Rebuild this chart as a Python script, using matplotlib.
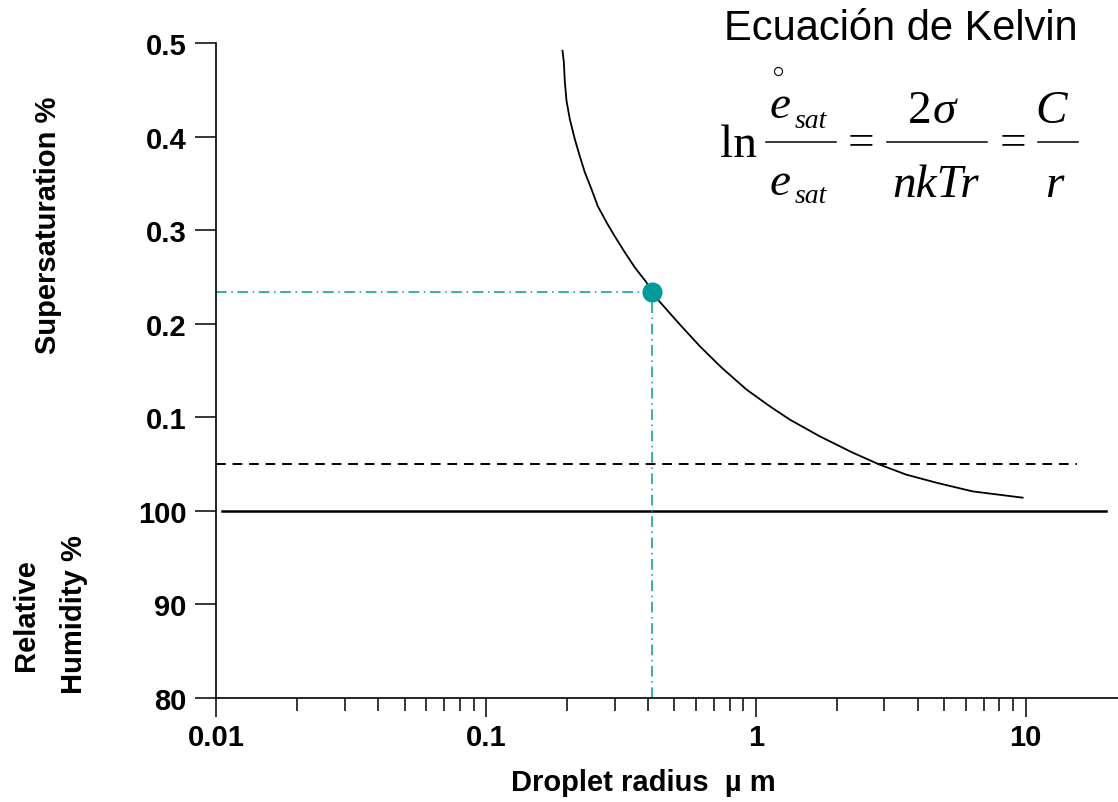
import matplotlib
matplotlib.use('Agg')
import matplotlib.pyplot as plt
from matplotlib.lines import Line2D
from matplotlib.ticker import FixedLocator, NullFormatter

# Kelvin curve: radius (um) vs supersaturation (%)
radius = [0.1923, 0.1945, 0.1962, 0.1990, 0.2047, 0.2136, 0.2229, 0.2326,
          0.2463, 0.2600, 0.2799, 0.3004, 0.3272, 0.3563, 0.3936, 0.4110,
          0.4669, 0.5232, 0.6204, 0.7464, 0.9239, 1.127, 1.336, 1.726,
          2.287, 2.879, 3.614, 4.669, 6.364, 9.748]
supersat = [0.4917, 0.4797, 0.4582, 0.4382, 0.4186, 0.3972, 0.3790, 0.3619,
            0.3437, 0.3255, 0.3084, 0.2934, 0.2763, 0.2602, 0.2442, 0.2335,
            0.2153, 0.1992, 0.1760, 0.1532, 0.1297, 0.1118, 0.0976, 0.0797,
            0.0622, 0.0494, 0.0387, 0.0301, 0.0208, 0.0141]

# highlighted droplet
point_r = 0.413
point_s = 0.2335

# reference levels (y=0 is 100 % RH)
dashed_level = 0.050
dashed_span = [0.01, 15.5]
sat_level = 0.0
sat_span = [0.0105, 19.9]

# y axis: supersaturation above 100 %, relative humidity below
y_ticks = [0.5, 0.4, 0.3, 0.2, 0.1, 0.0, -0.1, -0.2]
y_labels = ['0.5', '0.4', '0.3', '0.2', '0.1', '100', '90', '80']
x_ticks = [0.01, 0.1, 1, 10]
x_labels = ['0.01', '0.1', '1', '10']
x_minor = [m * d for d in (0.01, 0.1, 1) for m in range(2, 10)]

teal = '#009b98'

plt.rcParams['font.family'] = ['Liberation Sans', 'DejaVu Sans']

W, H = 1118, 803
fig = plt.figure(figsize=(W / 100, H / 100), dpi=100)
ax = fig.add_axes([216 / W, 1 - 699 / H, 1 - 216 / W, (699 - 44) / H])
ax.set_xscale('log')
ax.set_xlim(0.01, 22)
ax.set_ylim(-0.2, 0.5)

# curve
ax.plot(radius, supersat, color='black', lw=1.3)

# horizontal reference lines
ax.plot(dashed_span, [dashed_level, dashed_level], color='black', lw=1.4,
        dashes=(5, 3.5))
ax.plot(sat_span, [sat_level, sat_level], color='black', lw=1.8)

# highlighted point with guide lines
ax.plot([0.01, point_r], [point_s, point_s], color=teal, lw=1.1,
        dashes=(7, 3, 1, 3))
ax.plot([point_r, point_r], [-0.2, point_s], color=teal, lw=1.1,
        dashes=(7, 3, 1, 3))
ax.plot([point_r], [point_s], 'o', color=teal, ms=13.5, clip_on=False, zorder=5)

# axes styling
for side in ('top', 'right'):
    ax.spines[side].set_visible(False)
for side in ('left', 'bottom'):
    ax.spines[side].set_linewidth(1.2)

ax.set_yticks(y_ticks)
ax.set_yticklabels(y_labels)
ax.xaxis.set_major_locator(FixedLocator(x_ticks))
ax.set_xticklabels(x_labels)
ax.xaxis.set_minor_locator(FixedLocator(x_minor))
ax.xaxis.set_minor_formatter(NullFormatter())
ax.tick_params(axis='y', length=15, width=1.1, pad=6, labelsize=21)
ax.tick_params(axis='x', which='major', length=14, width=1.1, pad=4, labelsize=21)
ax.tick_params(axis='x', which='minor', length=9, width=1.1)
for lab in ax.get_xticklabels() + ax.get_yticklabels():
    lab.set_fontweight('bold')

# axis titles
fig.text(48 / W, 1 - 225 / H, 'Supersaturation %', rotation=90, ha='center',
         va='center', fontsize=21, fontweight='bold')
fig.text(50 / W, 1 - 615 / H, 'Relative\nHumidity %', rotation=90, ha='center',
         va='center', fontsize=21, fontweight='bold', multialignment='center',
         linespacing=1.9)
fig.text(643 / W, 1 - 783 / H, 'Droplet radius  \u00b5 m', ha='center',
         va='center', fontsize=21, fontweight='bold')

# Kelvin equation, laid out piece by piece (pixel positions from the top)
fig.text(901 / W, 1 - 40 / H, 'Ecuación de Kelvin', ha='center',
         va='baseline', fontsize=30)


def eq_text(x, y, s, size=34, italic=True, ha='left'):
    fig.text(x / W, 1 - y / H, s, ha=ha, va='baseline', fontsize=size,
             family='Liberation Serif', style='italic' if italic else 'normal')


def eq_bar(x0, x1, y):
    fig.add_artist(Line2D([x0 / W, x1 / W], [1 - y / H, 1 - y / H],
                          transform=fig.transFigure, color='black', lw=1.1))


eq_text(720, 157, 'ln', italic=False)
# left fraction: e°sat / esat
eq_text(770, 118, 'e')
eq_text(795, 128, 'sat', size=20)
fig.add_artist(Line2D([778 / W], [1 - 72 / H], transform=fig.transFigure,
                      marker='o', ms=5.8, mfc='none', mec='black', mew=0.8))
eq_bar(766, 836, 143)
eq_text(770, 195, 'e')
eq_text(795, 203, 'sat', size=20)
eq_text(861, 155, '=', italic=False, ha='center')
# 2 sigma / nkTr
eq_text(908, 123, '2', italic=False)
eq_text(933, 123, '\u03c3')
eq_bar(887, 987, 143)
eq_text(936, 197, 'nkTr', ha='center')
eq_text(1013, 155, '=', italic=False, ha='center')
# C / r
eq_text(1051, 123, 'C', ha='center')
eq_bar(1038, 1078, 143)
eq_text(1054, 197, 'r', ha='center')

fig.savefig('out.png', dpi=100)
